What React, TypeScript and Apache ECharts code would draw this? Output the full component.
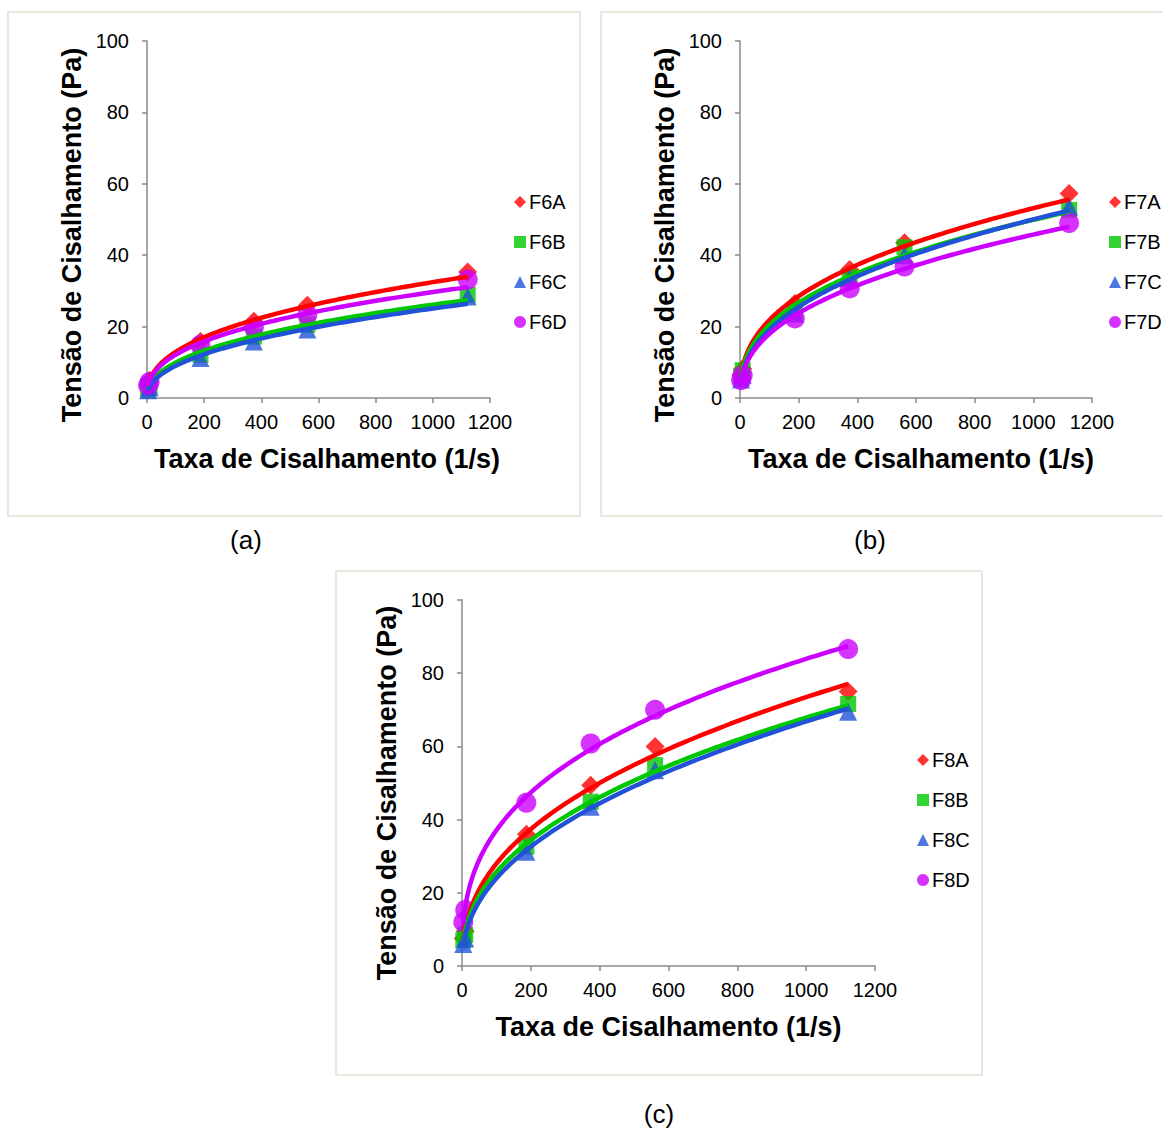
import React, { useEffect, useRef } from 'react';
import * as echarts from 'echarts';

// Shear rate (1/s) common to all samples
const shearRates = [3.7, 9.3, 187, 374, 561, 1122];

// Panel (a)
const seriesNamesA = ['F6A', 'F6B', 'F6C', 'F6D'];
const f6A = [3.5, 5, 15.8, 21.5, 26, 35.3];
const f6B = [2.6, 3.5, 12.1, 17.2, 20.5, 28.9];
const f6C = [2.2, 3, 11.2, 15.8, 19.2, 28.4];
const f6D = [3.6, 4.5, 14.9, 19.8, 23.3, 33.2];

// Panel (b)
const seriesNamesB = ['F7A', 'F7B', 'F7C', 'F7D'];
const f7A = [6.5, 8.2, 26.5, 36, 43.5, 57.3];
const f7B = [6, 7.8, 24.2, 34, 42.2, 52.7];
const f7C = [5.2, 6.5, 23.7, 33.5, 40, 53.6];
const f7D = [5, 6.4, 22.3, 30.7, 36.8, 49];

// Panel (c)
const seriesNamesC = ['F8A', 'F8B', 'F8C', 'F8D'];
const f8A = [7.5, 9.5, 36, 49.4, 60, 75];
const f8B = [7, 8.5, 32.6, 44.9, 54.9, 71.6];
const f8C = [6, 7.5, 31.2, 43.5, 53.5, 69.5];
const f8D = [12, 15.3, 44.6, 60.8, 70, 86.6];

const xTickMax = 1200;
const xTickStep = 200;
const yTickMax = 100;
const yTickStep = 20;

const colors = ['#ff0000', '#00c800', '#2252d8', '#cc00ff'];
const symbols = ['diamond', 'rect', 'triangle', 'circle'];
const symbolSizes = [19, 16, 18, 20];

const FONT = 'Liberation Sans, Arial, sans-serif';

// Excel-style power trendline: least squares on ln(y) vs ln(x)
function powerFit(xs: number[], ys: number[]) {
  const n = xs.length;
  let sx = 0, sy = 0, sxx = 0, sxy = 0;
  for (let i = 0; i < n; i++) {
    const lx = Math.log(xs[i]);
    const ly = Math.log(ys[i]);
    sx += lx; sy += ly; sxx += lx * lx; sxy += lx * ly;
  }
  const b = (n * sxy - sx * sy) / (n * sxx - sx * sx);
  const lnA = (sy - b * sx) / n;
  const a = Math.exp(lnA);
  const xmin = Math.min(...xs);
  const xmax = Math.max(...xs);
  const pts: number[][] = [];
  const N = 120;
  for (let i = 0; i <= N; i++) {
    const t = i / N;
    const x = xmin + (xmax - xmin) * t * t;
    pts.push([x, a * Math.pow(x, b)]);
  }
  return pts;
}

const panels = [
  { names: seriesNamesA, data: [f6A, f6B, f6C, f6D], grid: { left: 147, top: 41, width: 343, height: 357 }, legend: { left: 509, top: 187 }, xShift: 17, yShift: 31 },
  { names: seriesNamesB, data: [f7A, f7B, f7C, f7D], grid: { left: 740, top: 41, width: 352, height: 357 }, legend: { left: 1104, top: 187 }, xShift: 10, yShift: 31 },
  { names: seriesNamesC, data: [f8A, f8B, f8C, f8D], grid: { left: 462, top: 600, width: 413, height: 366 }, legend: { left: 912, top: 745 }, xShift: 0, yShift: 20 },
];

export default function App() {
  const ref = useRef<HTMLDivElement>(null);
  useEffect(() => {
    if (!ref.current) return;
    const chart = echarts.init(ref.current, null, { renderer: 'svg' });

    const grids: any[] = [];
    const xAxes: any[] = [];
    const yAxes: any[] = [];
    const legends: any[] = [];
    const scatterSeries: any[] = [];
    const lineSeries: any[] = [];

    const axisLineStyle = { color: '#8a8a8a', width: 1.5 };

    panels.forEach((p, gi) => {
      grids.push({ ...p.grid, containLabel: false });
      xAxes.push({
        gridIndex: gi,
        type: 'value',
        min: 0,
        max: xTickMax,
        interval: xTickStep,
        name: 'Taxa de Cisalhamento (1/s)',
        nameLocation: 'middle',
        nameGap: 47,
        nameTextStyle: { fontSize: 27, fontWeight: 'bold', fontFamily: FONT, color: '#000', padding: [0, 0, 0, p.xShift] },
        axisLine: { show: true, lineStyle: axisLineStyle },
        axisTick: { show: true, length: 5, inside: false, lineStyle: axisLineStyle },
        axisLabel: { fontSize: 20, fontFamily: FONT, color: '#000', margin: 14, formatter: (v: number) => String(v) },
        splitLine: { show: false },
      });
      yAxes.push({
        gridIndex: gi,
        type: 'value',
        min: 0,
        max: yTickMax,
        interval: yTickStep,
        name: 'Tensão de Cisalhamento (Pa)',
        nameLocation: 'middle',
        nameGap: 62,
        nameTextStyle: { fontSize: 27, fontWeight: 'bold', fontFamily: FONT, color: '#000', padding: [0, p.yShift, 0, 0] },
        axisLine: { show: true, lineStyle: axisLineStyle },
        axisTick: { show: true, length: 5, inside: false, lineStyle: axisLineStyle },
        axisLabel: { fontSize: 20, fontFamily: FONT, color: '#000', margin: 18 },
        splitLine: { show: false },
      });
      legends.push({
        data: p.names,
        left: p.legend.left,
        top: p.legend.top,
        orient: 'vertical',
        itemWidth: 12,
        itemHeight: 12,
        itemGap: 20,
        selectedMode: false,
        textStyle: { fontSize: 20, fontFamily: FONT, color: '#000', padding: [0, 0, 0, -2] },
      });
      p.names.forEach((name, si) => {
        const ys = p.data[si];
        scatterSeries.push({
          type: 'scatter',
          name,
          xAxisIndex: gi,
          yAxisIndex: gi,
          symbol: symbols[si],
          symbolSize: symbolSizes[si],
          itemStyle: { color: colors[si] },
          data: shearRates.map((x, i) => [x, ys[i]]),
          z: 2,
        });
        lineSeries.push({
          type: 'line',
          name: name + ' trend',
          xAxisIndex: gi,
          yAxisIndex: gi,
          showSymbol: false,
          symbol: 'none',
          smooth: false,
          lineStyle: { color: colors[si], width: 4.5 },
          itemStyle: { color: colors[si] },
          data: powerFit(shearRates, ys),
          z: 3,
          silent: true,
        });
      });
    });

    const borderStyle = { fill: 'none', stroke: '#ebe7dc', lineWidth: 2 };
    const capStyle = { fontSize: 26, fontFamily: FONT, fill: '#000', textAlign: 'center', textVerticalAlign: 'middle' };

    chart.setOption({
      animation: false,
      backgroundColor: '#ffffff',
      grid: grids,
      xAxis: xAxes,
      yAxis: yAxes,
      legend: legends,
      series: [...scatterSeries, ...lineSeries],
      graphic: [
        { type: 'rect', shape: { x: 8, y: 12, width: 572, height: 504 }, style: borderStyle, silent: true, z: -1 },
        { type: 'rect', shape: { x: 601, y: 12, width: 570, height: 504 }, style: borderStyle, silent: true, z: -1 },
        { type: 'rect', shape: { x: 336, y: 571, width: 646, height: 504 }, style: borderStyle, silent: true, z: -1 },
        { type: 'text', x: 246, y: 540, style: { ...capStyle, text: '(a)' } },
        { type: 'text', x: 870, y: 540, style: { ...capStyle, text: '(b)' } },
        { type: 'text', x: 659, y: 1114, style: { ...capStyle, text: '(c)' } },
      ],
    });
    return () => chart.dispose();
  }, []);
  return <div ref={ref} style={{ position: 'absolute', left: 0, top: 0, width: 1163, height: 1131 }} />;
}
